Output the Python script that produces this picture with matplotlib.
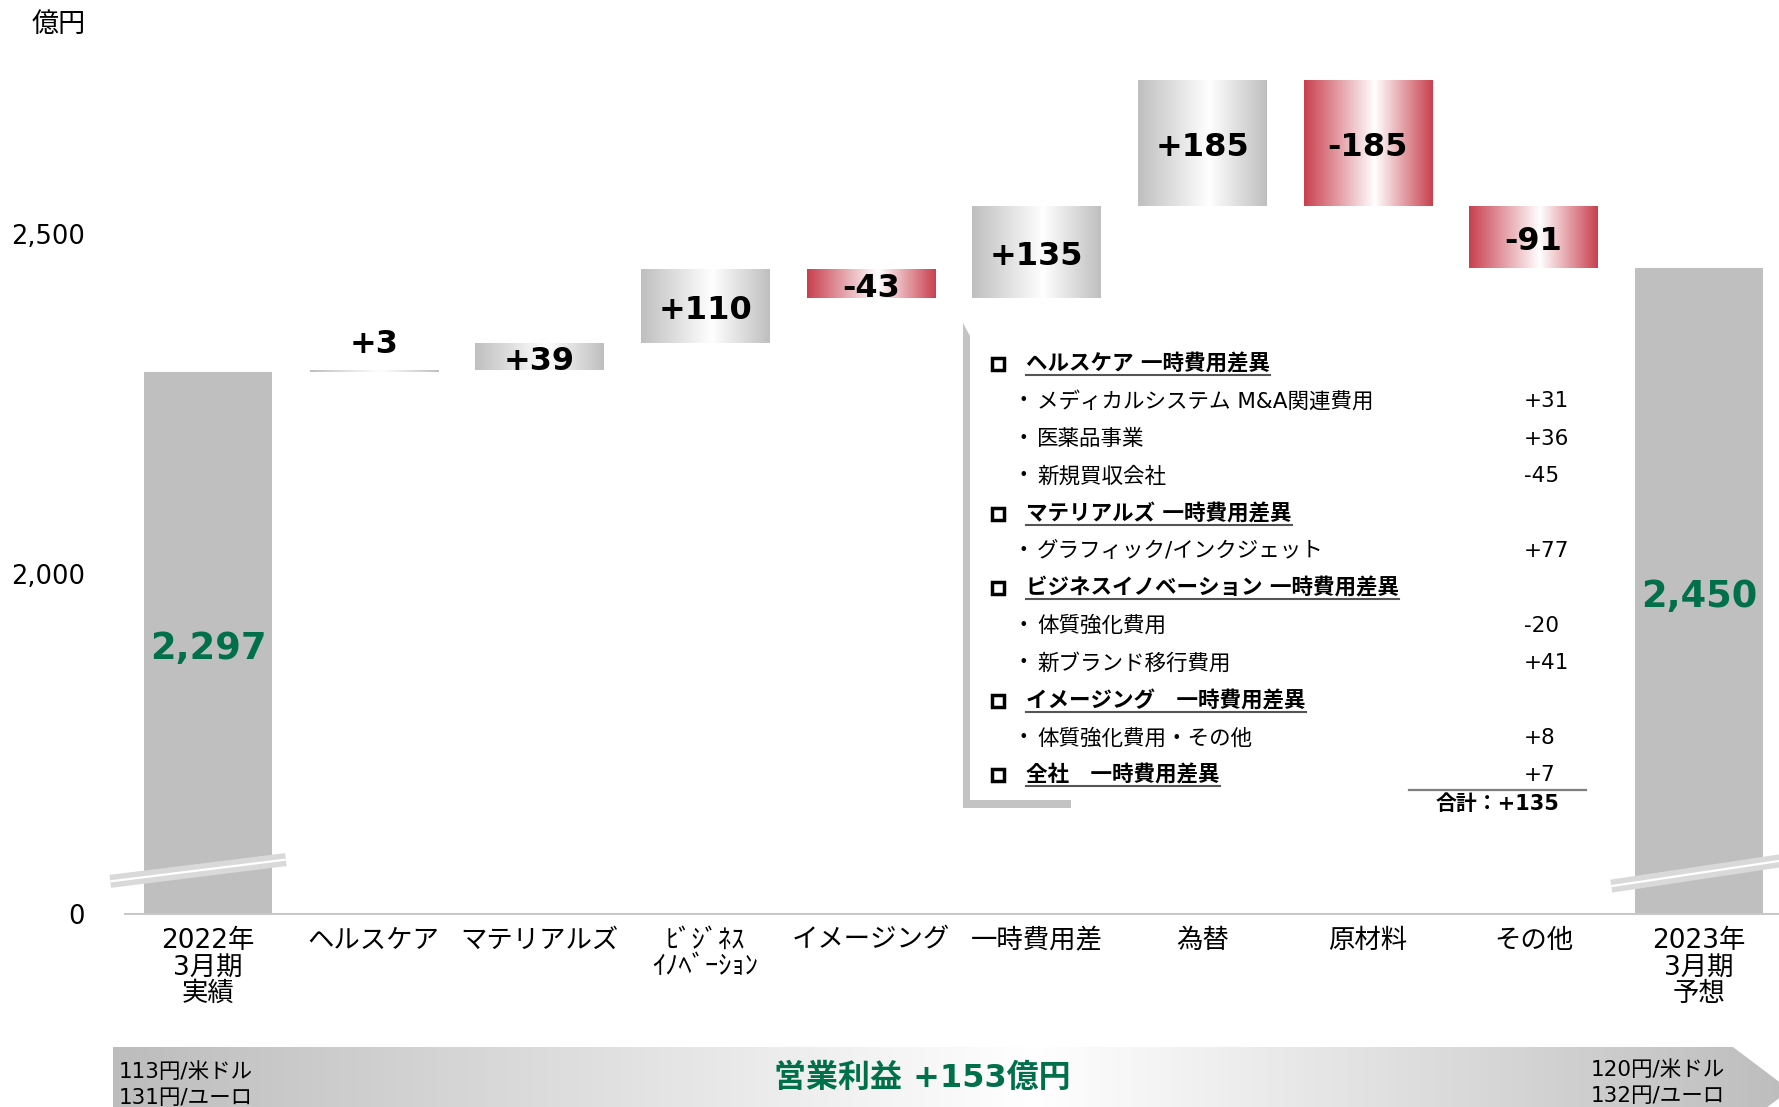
import numpy as np
import matplotlib

matplotlib.use("Agg")
import matplotlib.pyplot as plt
from matplotlib.colors import LinearSegmentedColormap
from matplotlib.patches import Polygon

plt.rcParams["font.family"] = ["DejaVu Sans", "Noto Sans CJK JP"]

# ---- data -------------------------------------------------------------
CATEGORIES = [
    "2022年\n3月期\n実績", "ヘルスケア", "マテリアルズ", "ﾋﾞｼﾞﾈｽ\nｲﾉﾍﾞｰｼｮﾝ",
    "イメージング", "一時費用差", "為替", "原材料", "その他", "2023年\n3月期\n予想",
]
START_VALUE = 2297
END_VALUE = 2450
DELTAS = [3, 39, 110, -43, 135, 185, -185, -91]
AXIS_FLOOR = 1500          # value drawn where the broken axis shows "0"
Y_TICKS = [AXIS_FLOOR, 2000, 2500]
Y_TICK_LABELS = ["0", "2,000", "2,500"]

NOTE_KINDS = ["head", "item", "item", "item", "head", "item", "head", "item", "item", "head", "item", "head"]
NOTE_LABELS = [
    "ヘルスケア 一時費用差異", "メディカルシステム M&A関連費用", "医薬品事業", "新規買収会社",
    "マテリアルズ 一時費用差異", "グラフィック/インクジェット",
    "ビジネスイノベーション 一時費用差異", "体質強化費用", "新ブランド移行費用",
    "イメージング　一時費用差異", "体質強化費用・その他", "全社　一時費用差異",
]
NOTE_VALUES = ["", "+31", "+36", "-45", "", "+77", "", "-20", "+41", "", "+8", "+7"]
NOTE_TOTAL = "合計：+135"

BANNER_TEXT = "営業利益 +153億円"
FX_BEFORE = ["113円/米ドル", "131円/ユーロ"]
FX_AFTER = ["120円/米ドル", "132円/ユーロ"]

# ---- style ------------------------------------------------------------
W, H = 1779, 1107
GRAY = "#bfbfbf"
RED = "#c8404e"
GREEN = "#00704a"
BAR_W = 0.773
GRAD = np.linspace(0, 1, 256).reshape(1, -1)


def edge_cmap(edge):
    return LinearSegmentedColormap.from_list("edge", [(0, edge), (0.55, "white"), (1, edge)])


def gradient_fill(axis, patch, cmap, extent, zorder=2):
    im = axis.imshow(GRAD, cmap=cmap, extent=extent, aspect="auto",
                     interpolation="bicubic", zorder=zorder)
    im.set_clip_path(patch)


fig = plt.figure(figsize=(W / 100, H / 100), dpi=100)
ax_left, ax_bottom = 125 / W, (H - 914) / H
ax = fig.add_axes([ax_left, ax_bottom, 1 - ax_left, 1 - ax_bottom])

x = np.arange(len(CATEGORIES))

# totals
ax.bar([x[0], x[-1]], [START_VALUE - AXIS_FLOOR, END_VALUE - AXIS_FLOOR],
       bottom=AXIS_FLOOR, width=BAR_W, color=GRAY, linewidth=0, zorder=2)
for xi, v in ((x[0], START_VALUE), (x[-1], END_VALUE)):
    ax.text(xi, (AXIS_FLOOR + v) / 2 - 8, f"{v:,}", ha="center", va="center",
            fontsize=26.5, fontweight="bold", color=GREEN, zorder=5)

# deltas
deltas = np.array(DELTAS)
levels = START_VALUE + np.concatenate([[0], np.cumsum(deltas)])
bottoms = levels[:-1]
bars = ax.bar(x[1:-1], deltas, bottom=bottoms, width=BAR_W, color="none", linewidth=0)
for bar, d, b in zip(bars, deltas, bottoms):
    x0, w = bar.get_x(), bar.get_width()
    y0, y1 = sorted((b, b + d))
    gradient_fill(ax, bar, edge_cmap(GRAY if d > 0 else RED), (x0, x0 + w, y0, y1))
    ty = y1 + 38 if abs(d) < 10 else (y0 + y1) / 2 - 7
    ax.text(x0 + w / 2, ty, f"{d:+d}", ha="center", va="center",
            fontsize=23, fontweight="bold", color="black", zorder=5)

# axis break marks across the two total bars
for xi, (dx0, dx1, dy0, dy1) in ((x[0], (-0.59, 0.47, 48, 80)), (x[-1], (-0.53, 0.62, 41, 83))):
    xs = [xi + dx0, xi + dx1]
    ys = [AXIS_FLOOR + dy0, AXIS_FLOOR + dy1]
    ax.plot(xs, ys, color="#d9d9d9", lw=9.4, solid_capstyle="butt", zorder=4, clip_on=False)
    ax.plot(xs, ys, color="white", lw=1.6, solid_capstyle="butt", zorder=4, clip_on=False)

ax.set_xlim(-0.501, 9.482)
ax.set_ylim(AXIS_FLOOR, AXIS_FLOOR + 914 / 0.68)
ax.set_yticks(Y_TICKS, Y_TICK_LABELS, fontsize=18.5)
ax.set_xticks(x, CATEGORIES, fontsize=19)
ax.tick_params(axis="y", length=0, pad=29)
ax.tick_params(axis="x", length=0, pad=10)
for lab in ax.get_xticklabels():
    lab.set_linespacing(1.02)
for side in ("left", "right", "top"):
    ax.spines[side].set_visible(False)
ax.spines["bottom"].set_color("#c8c8c8")
ax.spines["bottom"].set_linewidth(1.5)

fig.text(59 / W, 1 - 25 / H, "億円", ha="center", va="center", fontsize=19.5)

# ---- overlay in pixel coordinates -------------------------------------
ov = fig.add_axes([0, 0, 1, 1], zorder=3)
ov.axis("off")

# bracket beside the note
ov.add_patch(Polygon([(963, 323), (970, 336), (970, 800), (1071, 800), (1071, 808), (963, 808)],
                     closed=True, facecolor="#c3c3c3", edgecolor="none"))

row_y = 364 + 37.4 * np.arange(len(NOTE_LABELS))
heads = []
for kind, label, value, y in zip(NOTE_KINDS, NOTE_LABELS, NOTE_VALUES, row_y):
    if kind == "head":
        ov.plot(998, y, marker="s", ms=9, mfc="white", mec="black", mew=2.5)
        heads.append((ov.text(1026, y, label, ha="left", va="center", fontsize=15.5,
                              fontweight="bold"), y))
    else:
        ov.text(1023, y, "・", ha="center", va="center", fontsize=15.5)
        ov.text(1037, y, label, ha="left", va="center", fontsize=15.5)
    if value:
        ov.text(1524, y, value, ha="left", va="center", fontsize=15.5)

ov.plot([1409, 1586], [789.5, 789.5], color="#7f7f7f", lw=1.6)
ov.text(1498, 804, NOTE_TOTAL, ha="center", va="center", fontsize=15, fontweight="bold")

# banner arrow
banner = Polygon([(113, 1047), (1733, 1047), (1790, 1090), (1733, 1133), (113, 1133)],
                 closed=True, facecolor="none", edgecolor="none")
ov.add_patch(banner)
gradient_fill(ov, banner, edge_cmap("#bdbdbd"), (113, 1790, 1133, 1047), zorder=1)
ov.text(922, 1078, BANNER_TEXT, ha="center", va="center", fontsize=23,
        fontweight="bold", color=GREEN)
for i, (a, b) in enumerate(zip(FX_BEFORE, FX_AFTER)):
    ov.text(119, 1072 + 26 * i, a, ha="left", va="center", fontsize=15.5)
    ov.text(1591, 1070 + 26 * i, b, ha="left", va="center", fontsize=15.5)

ov.set_xlim(0, W)
ov.set_ylim(H, 0)

# underline the note headings
fig.canvas.draw()
inv = ov.transData.inverted()
for t, y in heads:
    bb = t.get_window_extent()
    (lx0, _), (lx1, _) = inv.transform([[bb.x0, bb.y0], [bb.x1, bb.y1]])
    ov.plot([lx0, lx1], [y + 11, y + 11], color="#555555", lw=1.5)
ov.set_xlim(0, W)
ov.set_ylim(H, 0)

fig.savefig("out.png", dpi=100)
